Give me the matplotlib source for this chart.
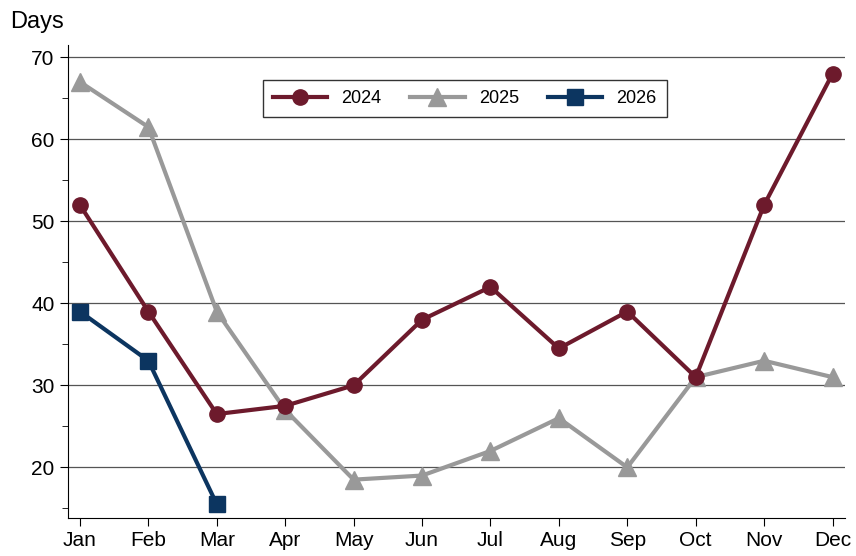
import matplotlib.pyplot as plt
from matplotlib.ticker import MultipleLocator

plt.rcParams['font.family'] = ['Liberation Sans', 'DejaVu Sans']

months = ['Jan', 'Feb', 'Mar', 'Apr', 'May', 'Jun',
          'Jul', 'Aug', 'Sep', 'Oct', 'Nov', 'Dec']
y2024 = [52, 39, 26.5, 27.5, 30, 38, 42, 34.5, 39, 31, 52, 68]
y2025 = [67, 61.5, 39, 27, 18.5, 19, 22, 26, 20, 31, 33, 31]
y2026 = [39, 33, 15.5]

fig = plt.figure(figsize=(8.56, 5.56), dpi=100)
ax = fig.add_axes([0.079, 0.068, 0.908, 0.851])

x = list(range(len(months)))
ax.plot(x, y2024, color='#6d1a2c', lw=3, marker='o', ms=11, label='2024', zorder=3)
ax.plot(x, y2025, color='#999999', lw=3, marker='^', ms=13, label='2025', zorder=2)
ax.plot(x[:len(y2026)], y2026, color='#0c3560', lw=3, marker='s', ms=11,
        label='2026', zorder=4)

ax.set_xlim(-0.18, 11.18)
ax.set_ylim(13.8, 71.5)
ax.yaxis.set_minor_locator(MultipleLocator(5))
ax.set_yticks([20, 30, 40, 50, 60, 70])
ax.set_xticks(x)
ax.set_xticklabels(months)
ax.grid(axis='y', color='#555555', lw=0.9)
ax.set_axisbelow(True)
for s in ['top', 'right']:
    ax.spines[s].set_visible(False)
ax.tick_params(labelsize=15, direction='out', length=6)
ax.tick_params(which='minor', length=4)

fig.text(0.012, 0.96, 'Days', fontsize=17, va='center')

leg = ax.legend(loc='upper center', bbox_to_anchor=(0.511, 0.945), ncol=3,
                fontsize=13, frameon=True, fancybox=False, edgecolor='black',
                handlelength=3, columnspacing=1.6, borderpad=0.55)
leg.get_frame().set_linewidth(1)

fig.savefig('out.png', dpi=100)
